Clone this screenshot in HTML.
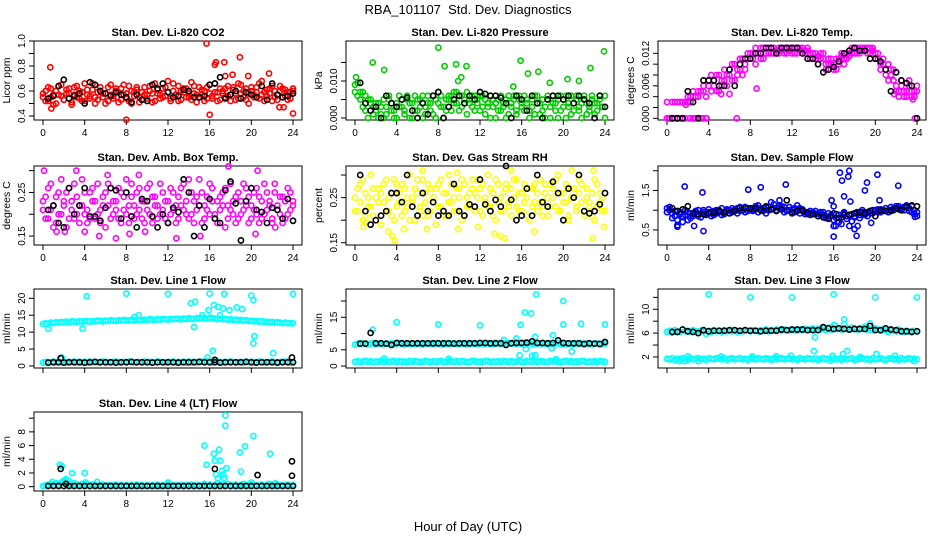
<!DOCTYPE html>
<html><head><meta charset="utf-8"><style>
html,body{margin:0;padding:0;background:#fff;}
svg{display:block;font-family:"Liberation Sans",Arial,sans-serif;}
</style></head><body>
<svg id="chart" width="936" height="540" viewBox="0 0 936 540" xmlns="http://www.w3.org/2000/svg">
<text x="468" y="14" text-anchor="middle" font-size="13">RBA_101107 &#160;Std. Dev. Diagnostics</text>
<text x="468" y="531" text-anchor="middle" font-size="13">Hour of Day (UTC)</text>
</svg>
<script>
// ---------- data ----------
const xTicks = [0,4,8,12,16,20,24];
const co2Red = [0.55,0.60,0.52,0.62,0.57,0.50,0.64,0.56,0.53,0.61,0.58,0.49,0.63,0.55,0.60,0.52,0.66,0.57,0.54,0.61,0.50,0.59,0.63,0.55,0.58,0.52,0.65,0.56,0.60,0.51,0.62,0.57,0.54,0.64,0.50,0.59,0.61,0.55,0.53,0.63,0.57,0.60,0.51,0.66,0.58,0.54,0.62,0.56,0.68,0.52,0.60,0.57,0.64,0.53,0.59,0.62,0.55,0.67,0.58,0.51,0.63,0.57,0.60,0.54,0.65,0.56,0.59,0.52,0.62,0.58,0.55,0.64,0.57,0.61,0.53,0.66,0.58,0.55,0.62,0.50,0.60,0.57,0.63,0.54,0.68,0.59,0.56,0.62,0.52,0.60,0.57,0.64,0.55,0.61,0.53,0.59,0.62];
const co2RedB = [0.58,0.52,0.63,0.55,0.49,0.60,0.57,0.65,0.53,0.58,0.62,0.51,0.57,0.64,0.54,0.59,0.52,0.61,0.56,0.66,0.55,0.53,0.60,0.58,0.50,0.63,0.57,0.54,0.62,0.59,0.53,0.65,0.58,0.52,0.60,0.56,0.63,0.51,0.59,0.57,0.54,0.64,0.58,0.52,0.61,0.57,0.55,0.63,0.59,0.54,0.66,0.57,0.52,0.60,0.62,0.55,0.58,0.53,0.64,0.57,0.55,0.61,0.52,0.63,0.58,0.54,0.66,0.59,0.53,0.60,0.62,0.56,0.52,0.63,0.58,0.54,0.65,0.60,0.53,0.58,0.63,0.55,0.59,0.66,0.57,0.52,0.61,0.58,0.64,0.55,0.53,0.60,0.62,0.56,0.59,0.54,0.60];
const co2RedOut = [[0.7,0.79],[8,0.37],[15.7,0.98],[16.6,0.83],[16.5,0.81],[17.4,0.83],[18.9,0.87],[16,0.41],[24,0.42],[21.7,0.74],[18.2,0.73],[17.5,0.72],[19.7,0.72],[22.7,0.47],[23.1,0.47],[0.8,0.46]];
const co2Black = [0.54,0.56,0.64,0.69,0.54,0.56,0.58,0.50,0.67,0.65,0.60,0.58,0.56,0.59,0.57,0.55,0.51,0.57,0.53,0.52,0.65,0.62,0.66,0.59,0.55,0.56,0.61,0.60,0.55,0.55,0.56,0.65,0.66,0.71,0.54,0.57,0.60,0.54,0.59,0.57,0.55,0.64,0.53,0.66,0.57,0.55,0.56,0.58];

const presGreen = [0.009,0.0095,0.007,0.007,0.006,0.005,0.004,0.003,0.002,0.004,0.001,0.000,0.003,0.005,0.002,0.000,0.004,0.006,0.003,0.001,0.005,0.000,0.004,0.006,0.002,0.005,0.000,0.003,0.006,0.004,0.001,0.005,0.007,0.003,0.000,0.005,0.006,0.002,0.004,0.007,0.006,0.003,0.005,0.007,0.004,0.006,0.002,0.005,0.006,0.003,0.001,0.004,0.006,0.003,0.000,0.005,0.002,0.004,0.000,0.006,0.003,0.005,0.001,0.006,0.004,0.002,0.005,0.000,0.003,0.006,0.004,0.001,0.005,0.003,0.006,0.000,0.004,0.002,0.005,0.006,0.003,0.000,0.004,0.006,0.002,0.005,0.003,0.000,0.006,0.004,0.002,0.005,0.001,0.004,0.006,0.003,0.000];
const presGreenB = [0.007,0.006,0.005,0.003,0.002,0.000,0.005,0.001,0.004,0.000,0.003,0.005,0.001,0.006,0.004,0.002,0.000,0.003,0.005,0.002,0.006,0.004,0.000,0.002,0.005,0.003,0.006,0.001,0.004,0.002,0.006,0.000,0.004,0.006,0.003,0.002,0.005,0.006,0.007,0.004,0.002,0.006,0.004,0.001,0.005,0.003,0.006,0.004,0.002,0.006,0.005,0.003,0.000,0.005,0.004,0.002,0.006,0.003,0.005,0.001,0.004,0.006,0.002,0.005,0.003,0.006,0.004,0.002,0.005,0.001,0.006,0.004,0.002,0.000,0.005,0.003,0.006,0.004,0.000,0.002,0.005,0.006,0.003,0.001,0.004,0.006,0.002,0.004,0.005,0.001,0.003,0.006,0.004,0.002,0.005,0.003,0.006];
const presGreenOut = [[0.1,0.011],[1.7,0.015],[2.8,0.013],[8,0.019],[8.6,0.014],[9.7,0.0145],[10.7,0.014],[9.9,0.010],[10.2,0.011],[15.9,0.0155],[16.6,0.012],[17.6,0.0125],[18.7,0.0095],[20.4,0.0105],[21.5,0.010],[22.6,0.0135],[23.9,0.018],[15.2,0.0085]];
const presBlack = [0.0095,0.004,0.002,0.003,0.000,0.006,0.004,0.003,0.005,0.0055,0.002,0.000,0.004,0.001,0.006,0.007,0.000,0.003,0.005,0.006,0.004,0.006,0.005,0.007,0.0065,0.006,0.006,0.0055,0.004,0.000,0.006,0.005,0.002,0.006,0.004,0.000,0.005,0.006,0.006,0.005,0.006,0.004,0.006,0.005,0.004,0.000,0.006,0.003];

const tempMag = [0.000,0.000,0.003,0.000,0.003,0.003,0.000,0.003,0.004,0.003,0.000,0.004,0.005,0.000,0.005,0.004,0.006,0.005,0.007,0.008,0.005,0.007,0.009,0.006,0.008,0.010,0.007,0.009,0.011,0.008,0.010,0.011,0.011,0.012,0.010,0.012,0.013,0.011,0.012,0.013,0.012,0.013,0.012,0.013,0.0125,0.013,0.012,0.013,0.013,0.012,0.013,0.0125,0.013,0.012,0.0125,0.012,0.012,0.011,0.0115,0.011,0.012,0.010,0.011,0.010,0.009,0.011,0.010,0.0115,0.011,0.012,0.0115,0.012,0.013,0.012,0.013,0.0125,0.013,0.012,0.013,0.0125,0.012,0.011,0.010,0.011,0.009,0.010,0.008,0.009,0.006,0.005,0.007,0.004,0.005,0.006,0.004,0.005,0.005];
const tempMagB = [0.003,0.000,0.000,0.003,0.000,0.000,0.003,0.000,0.003,0.004,0.005,0.000,0.004,0.005,0.006,0.000,0.007,0.008,0.006,0.005,0.008,0.006,0.007,0.008,0.009,0.007,0.010,0.008,0.009,0.011,0.009,0.012,0.012,0.011,0.013,0.012,0.011,0.013,0.012,0.012,0.013,0.012,0.0125,0.012,0.013,0.012,0.013,0.0125,0.012,0.013,0.012,0.013,0.012,0.0125,0.013,0.011,0.011,0.012,0.010,0.012,0.011,0.009,0.010,0.011,0.010,0.009,0.011,0.012,0.010,0.011,0.012,0.013,0.012,0.013,0.012,0.013,0.0125,0.013,0.012,0.013,0.011,0.012,0.009,0.010,0.008,0.007,0.009,0.007,0.005,0.004,0.006,0.005,0.004,0.007,0.005,0.004,0.006];
const tempMagOut = [[0.2,0],[0.5,0],[1.0,0],[1.5,0],[2.2,0],[2.6,0],[3.0,0],[3.4,0],[3.8,0],[6.7,0],[1.8,0.0025],[8.6,0.0055],[5.2,0.0045],[6.0,0.0045],[21.8,0.0045],[23.6,0.0035],[23.8,0]];
const tempBlack = [0.000,0.000,0.000,0.005,0.003,0.000,0.007,0.007,0.007,0.006,0.006,0.009,0.006,0.010,0.011,0.011,0.012,0.012,0.013,0.013,0.012,0.013,0.013,0.013,0.013,0.012,0.011,0.011,0.010,0.0085,0.009,0.0095,0.0105,0.012,0.0125,0.013,0.0125,0.0125,0.011,0.011,0.0105,0.009,0.005,0.0085,0.007,0.0065,0.006,0.000];

const ambMag = [0.21,0.24,0.19,0.27,0.22,0.18,0.25,0.20,0.23,0.17,0.26,0.21,0.19,0.24,0.22,0.28,0.20,0.18,0.25,0.23,0.19,0.27,0.21,0.24,0.17,0.22,0.26,0.20,0.23,0.19,0.25,0.21,0.28,0.18,0.24,0.22,0.20,0.26,0.19,0.23,0.21,0.27,0.18,0.24,0.22,0.20,0.25,0.19,0.23,0.26,0.21,0.18,0.24,0.22,0.27,0.20,0.19,0.25,0.23,0.21,0.28,0.18,0.22,0.24,0.20,0.26,0.19,0.23,0.21,0.25,0.17,0.22,0.27,0.20,0.24,0.19,0.23,0.21,0.26,0.18,0.22,0.25,0.20,0.24,0.19,0.27,0.21,0.23,0.18,0.25,0.22,0.20,0.24,0.19,0.26,0.21,0.23];
const ambMagB = [0.23,0.19,0.26,0.21,0.17,0.24,0.20,0.28,0.22,0.25,0.19,0.23,0.27,0.20,0.18,0.22,0.25,0.21,0.19,0.26,0.23,0.20,0.18,0.22,0.25,0.27,0.19,0.23,0.21,0.26,0.18,0.24,0.20,0.22,0.27,0.19,0.25,0.21,0.23,0.18,0.26,0.20,0.24,0.22,0.19,0.27,0.21,0.23,0.18,0.20,0.25,0.22,0.19,0.26,0.21,0.23,0.28,0.20,0.18,0.24,0.22,0.25,0.19,0.21,0.27,0.23,0.20,0.18,0.24,0.22,0.26,0.19,0.21,0.23,0.18,0.25,0.20,0.27,0.22,0.24,0.19,0.21,0.26,0.18,0.23,0.20,0.25,0.22,0.19,0.27,0.21,0.24,0.18,0.23,0.20,0.25,0.22];
const ambMagOut = [[0.1,0.30],[1.3,0.16],[2.1,0.16],[3.2,0.30],[5.4,0.15],[7.0,0.145],[9.2,0.29],[12.8,0.145],[17.8,0.31],[20.4,0.155],[22.3,0.17],[4.0,0.16],[20.6,0.30],[6.2,0.29],[8.3,0.155],[9.8,0.16],[15.1,0.15]];
const ambBlack = [0.21,0.22,0.18,0.17,0.26,0.20,0.22,0.26,0.195,0.195,0.185,0.215,0.26,0.255,0.19,0.25,0.195,0.17,0.235,0.23,0.195,0.17,0.20,0.18,0.215,0.205,0.28,0.25,0.15,0.22,0.17,0.235,0.19,0.18,0.255,0.275,0.225,0.14,0.23,0.26,0.21,0.205,0.18,0.215,0.21,0.19,0.235,0.185];

const rhYel = [0.25,0.22,0.28,0.20,0.26,0.23,0.30,0.21,0.25,0.27,0.19,0.24,0.29,0.22,0.26,0.20,0.28,0.24,0.21,0.27,0.23,0.30,0.25,0.20,0.26,0.22,0.29,0.24,0.21,0.27,0.25,0.19,0.28,0.23,0.26,0.21,0.30,0.24,0.22,0.27,0.25,0.20,0.28,0.23,0.26,0.29,0.22,0.25,0.27,0.21,0.24,0.30,0.23,0.26,0.20,0.28,0.25,0.22,0.27,0.24,0.21,0.29,0.23,0.26,0.22,0.28,0.25,0.20,0.27,0.24,0.22,0.29,0.23,0.26,0.21,0.28,0.25,0.23,0.30,0.22,0.26,0.24,0.20,0.27,0.25,0.22,0.29,0.24,0.21,0.27,0.23,0.26,0.20,0.28,0.24,0.22,0.26];
const rhYelB = [0.22,0.27,0.24,0.29,0.21,0.25,0.23,0.27,0.20,0.24,0.26,0.28,0.22,0.25,0.21,0.29,0.23,0.26,0.28,0.22,0.25,0.20,0.24,0.27,0.29,0.23,0.21,0.26,0.28,0.22,0.25,0.27,0.23,0.29,0.21,0.26,0.24,0.28,0.25,0.22,0.27,0.29,0.21,0.25,0.23,0.27,0.26,0.29,0.22,0.28,0.25,0.23,0.27,0.21,0.29,0.24,0.22,0.26,0.28,0.23,0.27,0.25,0.29,0.22,0.26,0.24,0.21,0.27,0.23,0.28,0.26,0.24,0.21,0.28,0.25,0.23,0.27,0.29,0.22,0.26,0.24,0.28,0.21,0.25,0.27,0.23,0.26,0.28,0.22,0.25,0.24,0.21,0.29,0.23,0.26,0.25,0.22];
const rhYelOut = [[3.2,0.175],[3.6,0.165],[3.8,0.155],[4.7,0.18],[6.9,0.18],[9.9,0.18],[11.8,0.185],[13.4,0.17],[14.0,0.165],[14.4,0.16],[17.2,0.175],[22.8,0.16],[23.9,0.185],[6.5,0.31],[9.8,0.305],[15.0,0.31],[20.8,0.31],[22.9,0.31],[0.8,0.185],[1.1,0.195]];
const rhBlack = [0.30,0.22,0.19,0.20,0.21,0.22,0.26,0.26,0.24,0.30,0.23,0.21,0.26,0.22,0.24,0.21,0.22,0.21,0.28,0.22,0.21,0.235,0.23,0.29,0.235,0.22,0.245,0.23,0.32,0.245,0.20,0.21,0.27,0.21,0.30,0.24,0.23,0.285,0.26,0.20,0.27,0.25,0.30,0.22,0.215,0.22,0.235,0.26];

const flowBlue = [1.05,1.00,0.92,0.85,0.75,0.95,0.70,0.88,0.95,0.80,0.90,0.98,0.85,0.92,1.00,0.88,0.95,0.85,0.98,0.92,1.00,0.88,0.95,1.02,0.93,1.05,0.98,0.92,1.08,1.00,0.95,1.05,1.02,0.98,1.10,0.95,1.00,1.05,0.92,1.08,1.02,1.15,0.98,1.05,1.10,0.95,1.00,1.08,1.02,0.95,1.12,1.05,0.98,0.90,0.95,0.88,0.92,0.98,0.85,0.95,0.88,0.80,0.92,0.85,0.75,0.90,0.70,0.82,0.95,0.78,0.88,0.72,0.85,0.92,0.80,0.95,0.88,0.85,0.98,0.92,1.00,0.95,1.02,0.98,1.05,0.95,1.08,1.00,1.05,1.10,1.02,1.08,1.12,1.05,0.95,1.00,0.95];
const flowBlueB = [0.95,1.08,0.80,0.98,0.62,0.90,0.85,1.00,0.75,0.92,0.85,0.95,1.00,0.82,0.95,0.90,1.02,0.92,0.88,1.00,0.95,1.05,0.90,0.98,1.00,0.95,1.02,1.05,0.98,1.00,1.08,0.98,1.05,1.00,1.02,1.12,1.05,0.98,1.10,1.00,1.20,1.05,1.00,1.10,1.02,1.08,0.98,1.00,0.92,1.05,1.00,0.92,1.02,0.95,0.90,0.98,0.95,0.90,0.92,0.88,0.95,0.85,0.78,0.88,0.60,0.80,0.88,0.65,0.92,0.85,0.60,0.90,0.82,0.95,0.88,1.00,0.90,0.95,0.92,1.00,0.98,1.02,0.95,1.00,1.05,1.00,0.98,1.05,1.10,1.02,1.05,1.00,1.08,0.98,1.10,0.90,0.85];
const flowBlueOut = [[1.7,1.60],[3.4,1.45],[3.5,0.47],[7.8,1.52],[9.0,1.58],[10.8,1.25],[11.4,1.65],[16.0,0.33],[15.8,1.25],[16.0,1.10],[16.6,1.95],[16.8,1.75],[17.0,1.35],[17.5,2.0],[17.4,1.85],[17.6,1.22],[18.0,0.52],[18.2,0.35],[19.0,1.50],[19.2,1.70],[20.2,1.90],[20.4,1.25],[22.2,1.62],[23.8,0.83],[19.6,0.68],[1.0,0.58],[2.6,0.6],[16.2,0.6],[18.3,0.6]];
const flowBlack = [1.05,0.98,1.02,1.10,0.92,0.90,0.90,0.92,0.95,0.98,0.95,0.92,0.98,1.05,1.05,1.05,1.05,1.00,1.08,1.02,0.98,1.02,1.25,0.95,0.98,1.00,0.92,0.90,0.85,0.82,0.80,0.92,0.80,0.88,0.88,0.92,0.95,0.92,0.98,0.85,1.00,0.98,1.00,1.05,1.00,1.08,1.12,1.10];

const l1Upper = [12.4,12.6,12.5,12.8,12.7,12.9,12.8,13.0,12.9,13.1,12.9,13.2,13.1,13.0,13.2,13.1,13.3,13.2,13.1,13.3,13.2,13.4,13.3,13.2,13.4,13.3,13.5,13.4,13.3,13.5,13.4,13.6,13.5,13.4,13.6,13.5,13.7,13.6,13.5,13.7,13.6,13.8,13.7,13.6,13.8,13.7,13.9,13.8,13.7,13.9,13.8,14.0,13.9,13.8,14.0,13.9,14.1,14.0,13.9,14.1,14.0,14.2,14.1,14.0,14.2,14.1,14.0,13.9,14.0,13.8,13.9,13.7,13.8,13.6,13.7,13.5,13.6,13.4,13.5,13.3,13.4,13.2,13.3,13.1,13.2,13.0,13.1,12.9,13.0,12.8,12.9,12.8,12.7,12.8,12.6,12.7,12.6];
const l1Lower = [1.0,1.2,0.9,1.1,1.3,1.0,1.2,1.1,1.4,1.0,1.2,1.1,1.3,1.0,1.2,1.1,1.2,1.0,1.3,1.1,1.2,1.0,1.1,1.3,1.2,1.0,1.1,1.2,1.3,1.1,1.0,1.2,1.1,1.3,1.2,1.0,1.1,1.2,1.0,1.3,1.1,1.2,1.0,1.1,1.3,1.2,1.1,1.0,1.2,1.1,1.3,1.0,1.2,1.1,1.2,1.0,1.3,1.1,1.2,1.0,1.1,1.3,1.2,1.4,1.1,1.0,1.2,1.3,1.1,1.0,1.2,1.1,1.3,1.2,1.0,1.1,1.2,1.0,1.3,1.1,1.2,1.0,1.1,1.3,1.2,1.0,1.1,1.2,1.3,1.1,1.0,1.2,1.1,1.3,1.2,1.0,1.1];
const l1Out = [[4.2,20.6],[8.0,21.4],[12.0,21.3],[16.0,21.4],[17.4,21.3],[20.0,20.8],[20.2,19.5],[24.0,21.3],[14.2,18.5],[14.6,19.0],[15.9,16.5],[16.4,18.0],[16.8,17.5],[17.3,17.0],[17.9,16.5],[18.6,17.3],[19.1,16.8],[14.5,11.5],[0.5,11.0],[3.8,11.0],[20.3,8.8],[20.2,6.7],[22.1,3.8],[15.8,2.5],[16.3,4.5],[1.8,2.5],[15.3,15.0],[9.2,15.0],[8.8,14.5],[16.0,14.3],[17.0,15.0]];
const l1Black = [1.0,1.1,1.1,1.0,1.1,1.1,1.1,1.0,1.1,1.2,1.1,1.1,1.1,1.0,1.1,1.1,1.2,1.1,1.1,1.1,1.0,1.1,1.1,1.1,1.1,1.0,1.1,1.1,1.1,1.2,1.1,1.1,1.1,1.0,1.1,1.1,1.1,1.1,1.2,1.1,1.0,1.1,1.1,1.1,1.0,1.1,1.1,1.1];
const l1BlackOut = [[1.7,2.3],[23.9,2.5],[16.5,1.8]];

const l2Upper = [6.6,6.9,6.7,7.0,6.8,6.6,6.9,7.1,6.7,6.8,7.0,6.6,6.9,6.8,7.0,6.7,6.9,7.1,6.8,6.6,7.0,6.8,6.9,6.7,7.0,6.8,6.6,6.9,7.1,6.8,6.7,7.0,6.9,6.8,6.6,7.0,6.8,6.9,7.1,6.7,6.8,7.0,6.9,6.6,6.8,7.0,6.9,6.7,7.1,6.8,6.9,7.0,6.7,6.8,7.2,6.9,6.8,7.0,6.7,7.1,6.9,7.3,6.8,7.0,6.9,7.2,6.8,7.0,6.9,6.7,7.1,6.8,7.0,6.9,6.7,7.0,6.8,6.9,7.1,6.8,6.7,7.0,6.9,6.8,6.6,7.0,6.8,6.9,6.7,7.0,6.8,6.6,6.9,7.0,6.8,6.7,6.9];
const l2Lower = [1.3,1.5,1.2,1.4,1.6,1.3,1.5,1.2,1.4,1.3,1.6,1.2,1.5,1.3,1.4,1.6,1.2,1.5,1.3,1.4,1.2,1.6,1.3,1.5,1.4,1.2,1.3,1.6,1.4,1.2,1.5,1.3,1.4,1.6,1.2,1.3,1.5,1.4,1.2,1.6,1.3,1.5,1.4,1.2,1.3,1.6,1.5,1.2,1.4,1.3,1.5,1.6,1.2,1.4,1.3,1.5,1.2,1.6,1.4,1.3,1.5,1.2,1.4,1.6,1.3,1.2,1.5,1.4,1.3,1.6,1.2,1.5,1.4,1.3,1.2,1.6,1.4,1.5,1.3,1.2,1.4,1.6,1.3,1.5,1.2,1.4,1.3,1.6,1.5,1.2,1.4,1.3,1.5,1.2,1.6,1.4,1.3];
const l2Out = [[1.7,11.2],[4.0,13.5],[8.0,12.8],[12.0,12.5],[15.9,12.7],[16.3,16.5],[16.9,16.2],[17.4,22.0],[20.0,12.8],[20.0,20.0],[21.7,13.0],[24.0,12.8],[15.5,8.5],[17.3,9.0],[19.0,9.5],[18.9,5.5],[16.4,5.2],[15.8,3.3],[17.0,3.2],[17.3,3.3],[20.8,4.5],[2.8,2.3],[9.0,2.2],[19.3,2.1],[14.3,8.0]];
const l2Black = [6.9,6.9,10.2,7.0,7.0,6.9,6.5,7.1,7.0,7.0,7.0,7.0,7.0,7.0,7.0,7.0,7.0,7.0,6.9,7.0,7.0,7.0,7.0,7.1,7.1,7.0,7.0,7.0,6.5,7.0,7.1,7.1,7.2,7.6,7.1,7.1,7.0,7.1,7.9,7.1,7.0,7.0,7.0,6.8,7.0,6.9,6.8,7.4];

const l3Upper = [6.2,6.4,6.1,6.5,6.3,6.2,6.6,6.3,6.4,6.2,6.5,6.3,6.1,6.4,6.3,5.9,6.4,6.2,6.5,6.3,6.4,6.2,6.5,6.3,6.4,6.3,6.5,6.2,6.4,6.3,6.5,6.4,6.3,6.5,6.4,6.3,6.5,6.4,6.6,6.3,6.5,6.4,6.6,6.5,6.4,6.6,6.5,6.4,6.6,6.5,6.4,6.6,6.5,6.7,6.5,6.6,6.8,6.5,6.7,6.6,6.8,6.5,6.9,6.6,7.3,6.7,6.8,6.6,7.5,6.8,6.6,6.9,6.7,6.6,6.8,6.7,7.1,6.6,6.7,6.5,6.8,6.6,6.4,6.7,6.5,6.2,6.5,6.4,6.3,6.6,6.4,6.2,6.4,6.3,6.2,6.4,6.3];
const l3Lower = [1.7,1.6,1.8,1.5,1.7,1.6,1.8,1.7,1.5,1.8,1.6,1.7,1.8,1.6,1.7,1.5,1.8,1.7,1.6,1.8,1.7,1.6,1.8,1.5,1.7,1.8,1.6,1.7,1.8,1.6,1.7,1.5,1.8,1.7,1.6,1.8,1.7,1.6,1.8,1.7,1.5,1.8,1.6,1.7,1.8,1.6,1.7,1.8,1.6,1.7,1.5,1.8,1.7,1.6,1.8,1.7,1.6,1.8,1.5,1.7,1.8,1.6,1.7,1.4,1.8,1.6,1.7,1.5,1.8,1.6,1.7,1.8,1.5,1.6,1.7,1.8,1.6,1.7,1.5,1.8,1.6,1.7,1.8,1.6,1.5,1.7,1.8,1.6,1.7,1.5,1.8,1.6,1.7,1.8,1.6,1.7,1.6];
const l3Out = [[4.0,12.5],[8.0,12.0],[12.0,12.0],[16.0,12.5],[20.0,12.0],[24.0,12.0],[14.2,5.3],[14.1,3.0],[17.0,8.3],[17.3,3.0],[16.1,7.3],[19.5,7.6],[20.1,2.5],[2.0,2.1],[5.2,2.1],[8.2,2.1],[10.5,2.1],[11.9,2.2],[15.9,2.2],[21.9,2.2],[23.7,1.3],[1.2,1.3],[1.7,1.3],[3.0,1.3],[16.9,2.5],[18.5,2.0]];
const l3Black = [6.2,6.2,6.6,6.3,6.2,6.0,6.5,6.3,6.4,6.4,6.4,6.5,6.5,6.4,6.5,6.4,6.4,6.3,6.4,6.4,6.4,6.6,6.5,6.6,6.6,6.6,6.5,6.5,6.5,7.0,6.8,6.7,6.8,6.7,6.6,6.7,6.7,6.7,7.2,6.5,6.5,6.8,6.6,6.5,6.3,6.3,6.2,6.3];

const l4Cyan = [0.1,0.2,0.3,0.4,0.2,0.5,0.3,0.6,0.7,0.3,0.4,0.2,0.5,0.3,0.2,0.4,0.3,0.2,0.1,0.3,0.2,0.1,0.2,0.3,0.1,0.2,0.1,0.2,0.3,0.1,0.2,0.1,0.2,0.1,0.2,0.1,0.3,0.1,0.2,0.1,0.2,0.1,0.2,0.1,0.3,0.1,0.2,0.1,0.4,0.2,0.1,0.2,0.1,0.2,0.1,0.2,0.1,0.3,0.1,0.2,0.1,0.2,0.4,0.2,0.3,0.1,0.2,0.5,0.2,0.3,0.2,0.4,0.1,0.2,0.3,0.1,0.2,0.4,0.2,0.1,0.3,0.2,0.1,0.2,0.3,0.1,0.2,0.4,0.2,0.1,0.3,0.2,0.1,0.2,0.3,0.1,0.2];
const l4Out = [[0.9,0.7],[1.6,3.2],[1.8,3.0],[2.0,0.9],[2.2,1.1],[2.5,0.8],[2.8,2.0],[4.0,2.0],[4.1,0.6],[5.2,0.7],[12.0,0.6],[15.5,6.0],[15.7,3.2],[16.4,4.8],[16.5,3.8],[16.6,1.8],[16.8,1.2],[16.9,5.4],[17.0,3.8],[17.2,2.3],[17.3,1.8],[17.4,1.3],[17.5,8.9],[17.5,10.4],[17.6,2.7],[18.9,5.0],[19.0,2.2],[19.4,5.9],[20.0,0.6],[20.2,7.4],[21.8,4.8],[22.3,0.5]];
const l4Black = [0.1,0.1,0.1,0.1,0.1,0.1,0.1,0.1,0.1,0.1,0.1,0.1,0.1,0.1,0.1,0.1,0.1,0.1,0.1,0.1,0.1,0.1,0.1,0.1,0.1,0.1,0.1,0.1,0.1,0.1,0.1,0.1,0.1,0.1,0.1,0.1,0.1,0.1,0.1,0.1,0.1,0.1,0.1,0.1,0.1,0.1,0.1,0.1];
const l4BlackOut = [[1.7,2.6],[2.2,0.4],[16.5,2.6],[20.6,1.7],[23.9,3.7],[23.9,1.6]];

// ---------- panels ----------
const panels = [
 {name:'co2',title:'Stan. Dev. Li-820 CO2',ylab:'Licor ppm',col:0,row:0,lo:0.368,hi:1.0,ticks:[0.4,0.5,0.6,0.7,0.8,0.9,1.0],labs:[0.4,0.6,0.8,1.0],fmt:1,color:'#ff0000',main:[co2Red,co2RedB],out:co2RedOut,black:co2Black,bout:[]},
 {name:'pressure',title:'Stan. Dev. Li-820 Pressure',ylab:'kPa',col:1,row:0,lo:-0.00054,hi:0.0208,ticks:[0,0.005,0.010,0.015],labs:[0,0.010],fmt:3,color:'#00cc00',main:[presGreen,presGreenB],out:presGreenOut,black:presBlack,bout:[]},
 {name:'li820-temp',title:'Stan. Dev. Li-820 Temp.',ylab:'degrees C',col:2,row:0,lo:-0.00031,hi:0.01428,ticks:[0,0.002,0.004,0.006,0.008,0.010,0.012],labs:[0,0.006,0.012],fmt:3,color:'#ff00ff',main:[tempMag,tempMagB],out:tempMagOut,black:tempBlack,bout:[]},
 {name:'amb-box-temp',title:'Stan. Dev. Amb. Box Temp.',ylab:'degrees C',col:0,row:1,lo:0.1295,hi:0.3107,ticks:[0.15,0.20,0.25,0.30],labs:[0.15,0.25],fmt:2,color:'#ff00ff',main:[ambMag,ambMagB],out:ambMagOut,black:ambBlack,bout:[]},
 {name:'gas-stream-rh',title:'Stan. Dev. Gas Stream RH',ylab:'percent',col:1,row:1,lo:0.145,hi:0.32,ticks:[0.15,0.20,0.25,0.30],labs:[0.15,0.25],fmt:2,color:'#ffff00',main:[rhYel,rhYelB],out:rhYelOut,black:rhBlack,bout:[]},
 {name:'sample-flow',title:'Stan. Dev. Sample Flow',ylab:'ml/min',col:2,row:1,lo:0.118,hi:2.12,ticks:[0.5,1.0,1.5,2.0],labs:[0.5,1.5],fmt:1,color:'#0000ff',main:[flowBlue,flowBlueB],out:flowBlueOut,black:flowBlack,bout:[]},
 {name:'line1-flow',title:'Stan. Dev. Line 1 Flow',ylab:'ml/min',col:0,row:2,lo:-0.6,hi:22.75,ticks:[0,5,10,15,20],labs:[0,5,10,15,20],fmt:0,color:'#00ffff',main:[l1Upper,l1Lower],out:l1Out,black:l1Black,bout:l1BlackOut},
 {name:'line2-flow',title:'Stan. Dev. Line 2 Flow',ylab:'ml/min',col:1,row:2,lo:-0.6,hi:23.7,ticks:[0,5,10,15,20],labs:[0,5,15],fmt:0,color:'#00ffff',main:[l2Upper,l2Lower],out:l2Out,black:l2Black,bout:[]},
 {name:'line3-flow',title:'Stan. Dev. Line 3 Flow',ylab:'ml/min',col:2,row:2,lo:0.15,hi:13.4,ticks:[2,4,6,8,10,12],labs:[2,6,10],fmt:0,color:'#00ffff',main:[l3Upper,l3Lower],out:l3Out,black:l3Black,bout:[]},
 {name:'line4-flow',title:'Stan. Dev. Line 4 (LT) Flow',ylab:'ml/min',col:0,row:3,lo:-0.63,hi:10.9,ticks:[0,2,4,6,8,10],labs:[0,2,4,6,8],fmt:0,color:'#00ffff',main:[l4Cyan],out:l4Out,black:l4Black,bout:l4BlackOut}
];

const colX = [34,346,658], rowY = [41,166,289,412], BW = 268, BH = 79;
const XLO = -0.864, XHI = 24.864;
const NS = 'http://www.w3.org/2000/svg';
const svg = document.getElementById('chart');
function mk(tag, attrs, parent){ const e=document.createElementNS(NS,tag); for(const k in attrs) e.setAttribute(k,attrs[k]); (parent||svg).appendChild(e); return e; }

panels.forEach(p=>{
  const bx=colX[p.col], by=rowY[p.row];
  const g = mk('g',{});
  
  
  const xs = h => bx + (h - XLO)/(XHI - XLO)*BW;
  const ys = v => by + BH - (v - p.lo)/(p.hi - p.lo)*BH;
  const box = mk('rect',{x:bx,y:by,width:BW,height:BH,fill:'none',stroke:'#000','stroke-width':1},g);
  
  
  const t = mk('text',{x:bx+BW/2,y:by-5,'text-anchor':'middle','font-size':11,'font-weight':'bold'},g);
  t.textContent = p.title;
  
  
  const xa = mk('g',{},g);
  
  
  mk('line',{x1:xs(xTicks[0]),x2:xs(xTicks[xTicks.length-1]),y1:by+BH,y2:by+BH,stroke:'#000'},xa);
  xTicks.forEach(v=>{
    mk('line',{x1:xs(v),x2:xs(v),y1:by+BH,y2:by+BH+5,stroke:'#000'},xa);
    if(p.row!==2){
      const l = mk('text',{x:xs(v),y:by+BH+16,'text-anchor':'middle','font-size':10},xa);
      l.textContent = v;
      
      
    }
  });
  const ya = mk('g',{},g);
  
  
  mk('line',{x1:bx,x2:bx,y1:ys(p.ticks[0]),y2:ys(p.ticks[p.ticks.length-1]),stroke:'#000'},ya);
  p.ticks.forEach(v=>{
    mk('line',{x1:bx-5,x2:bx,y1:ys(v),y2:ys(v),stroke:'#000'},ya);
  });
  p.labs.forEach(v=>{
    const tx=bx-9, ty=ys(v);
    const l = mk('text',{x:tx,y:ty,'text-anchor':'middle','font-size':10,transform:'rotate(-90 '+tx+' '+ty+')'},ya);
    l.textContent = v.toFixed(p.fmt);
    
    
  });
  const yl = mk('text',{x:bx-24,y:by+BH/2,'text-anchor':'middle','font-size':10.5,transform:'rotate(-90 '+(bx-24)+' '+(by+BH/2)+')'},g);
  yl.textContent = p.ylab;
  
  
  const cg = mk('g',{fill:'none',stroke:p.color,'stroke-width':1.6},g);
  
  
  p.main.forEach(arr=>{
    arr.forEach((v,i)=>{
      const h = i*24/(arr.length-1);
      const c = mk('circle',{cx:xs(h),cy:ys(v),r:2.6},cg);
      
      
    });
  });
  p.out.forEach(([h,v])=>{
    const c = mk('circle',{cx:xs(h),cy:ys(v),r:2.6},cg);
    
    
  });
  const bg = mk('g',{fill:'none',stroke:'#000','stroke-width':1.6},g);
  
  
  p.black.forEach((v,i)=>{
    const h = 0.5 + i*23.5/(p.black.length-1);
    const c = mk('circle',{cx:xs(h),cy:ys(v),r:2.6},bg);
    
    
  });
  p.bout.forEach(([h,v])=>{
    const c = mk('circle',{cx:xs(h),cy:ys(v),r:2.6},bg);
    
    
  });
});
</script>
</body></html>
